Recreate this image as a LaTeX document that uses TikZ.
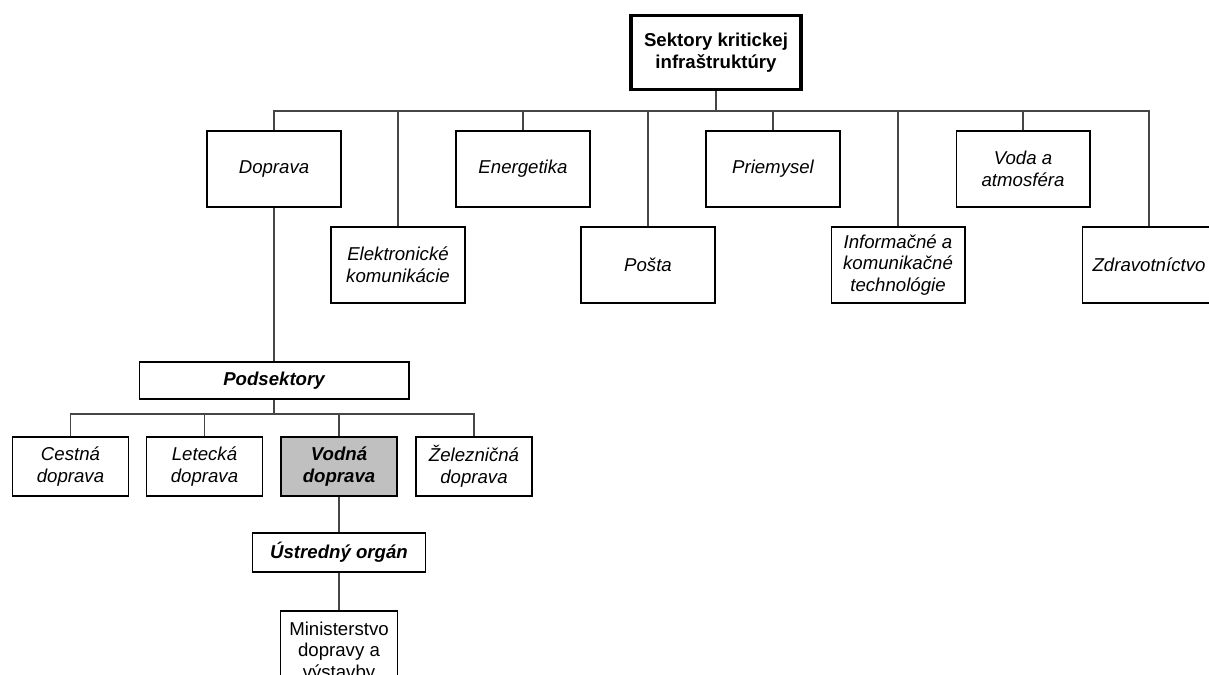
\documentclass[tikz,border=0pt]{standalone}
\usepackage{fontspec}
\setmainfont{Liberation Sans}
\usetikzlibrary{positioning}
\definecolor{linkcol}{RGB}{70,70,70}
\definecolor{subfill}{RGB}{192,192,192}

\begin{document}
\begin{tikzpicture}[x=0.02cm,y=0.02cm,
  box/.style={draw,line width=0.6pt,align=center,inner sep=1pt,
    font=\fontsize{10.6}{12.4}\selectfont\itshape,
    minimum width=2.68cm,minimum height=1.52cm},
  sub/.style={box,minimum width=2.32cm,minimum height=1.18cm},
  head/.style={box,font=\fontsize{10.6}{12.4}\selectfont\bfseries\itshape},
  link/.style={draw=linkcol,line width=0.6pt}]
  \path[use as bounding box,clip] (0,0) rectangle (1209,675);
  % root and sectors
  \node[box,line width=1.8pt,font=\fontsize{10.6}{12.5}\selectfont\bfseries,
    minimum width=3.4cm,minimum height=1.48cm] (root) at (716,622.5) {Sektory kritickej\\infraštruktúry};
  \coordinate (bus) at (716,564);
  \node[box] (dop)  at (274,506)  {Doprava};
  \node[box] (ene)  at (523,506)  {Energetika};
  \node[box] (pri)  at (773,506)  {Priemysel};
  \node[box] (voda) at (1023,506) {Voda a\\atmosféra};
  \node[box] (elk)  at (398,410)  {Elektronické\\komunikácie};
  \node[box] (post) at (648,410)  {Pošta};
  \node[box] (ikt)  at (898,410)  {Informačné a\\komunikačné\\technológie};
  \node[box] (zdr)  at (1149,410) {Zdravotníctvo};
  \draw[link] (root.south) -- (bus);
  \foreach \n in {dop,elk,ene,post,pri,ikt,voda,zdr}
    \draw[link] (bus) -| (\n.north);
  % subsectors of transport
  \node[head,minimum width=5.4cm,minimum height=0.74cm] (pod) at (274,294.5) {Podsektory};
  \draw[link] (dop.south) -- (pod.north);
  \coordinate (subbus) at (274,261);
  \draw[link] (pod.south) -- (subbus);
  \node[sub] (cest) at (70.5,208.5)  {Cestná\\doprava};
  \node[sub] (let)  at (204.5,208.5) {Letecká\\doprava};
  \node[sub,fill=subfill,font=\fontsize{10.6}{12.4}\selectfont\bfseries\itshape] (vod) at (339,208.5) {Vodná\\doprava};
  \node[sub] (zel)  at (474,208.5)   {Železničná\\doprava};
  \foreach \n in {cest,let,vod,zel}
    \draw[link] (subbus) -| (\n.north);
  % central body
  \node[head,minimum width=3.46cm,minimum height=0.78cm] (ust) at (339,122.5) {Ústredný orgán};
  \node[box,font=\fontsize{10.6}{12.4}\selectfont,minimum width=2.34cm,minimum height=1.64cm] (min) at (339,23) {Ministerstvo\\dopravy a\\výstavby};
  \draw[link] (vod.south) -- (ust.north);
  \draw[link] (ust.south) -- (min.north);
\end{tikzpicture}
\end{document}
